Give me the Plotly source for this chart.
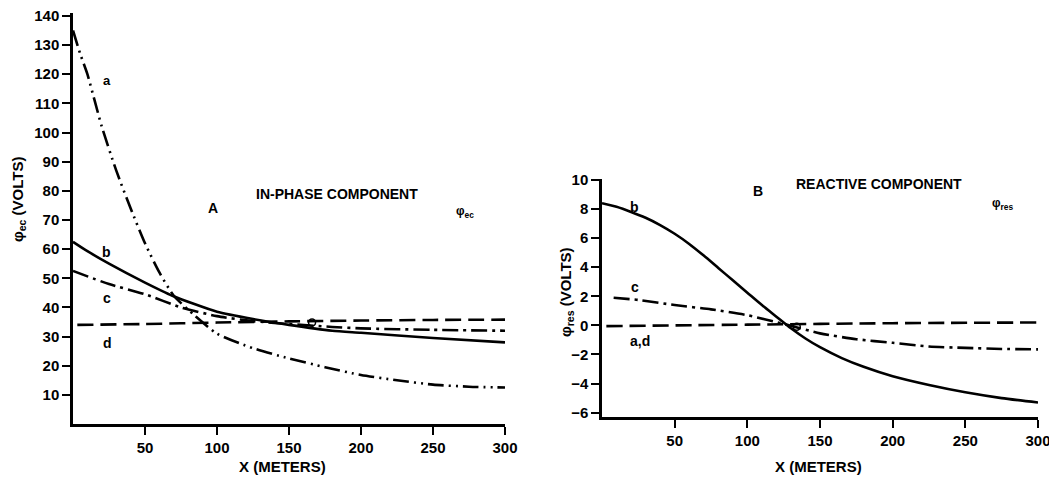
import plotly.graph_objects as go

# ---------------- data: panel A (in-phase component) ----------------
x_a_A = [0, 5, 10, 15, 20, 30, 40, 50, 60, 70, 85, 100, 125, 150, 175, 200, 225, 250, 275, 300]
y_a_A = [135, 127, 120, 111, 102, 87, 74, 62, 52, 44, 37, 31, 26, 22.5, 19.5, 16.8, 15, 13.5, 12.8, 12.5]

x_b_A = [0, 10, 25, 50, 69, 100, 125, 150, 180, 200, 250, 300]
y_b_A = [62.5, 59.3, 55, 48.5, 44, 38.5, 36, 34, 32, 31.3, 29.5, 28]

x_c_A = [0, 25, 50, 75, 100, 125, 150, 180, 200, 250, 300]
y_c_A = [52.5, 48, 44.5, 40, 37, 35.3, 34.3, 33.3, 32.8, 32.3, 32]

x_d_A = [3, 50, 100, 150, 200, 250, 300]
y_d_A = [34, 34.3, 34.8, 35.2, 35.5, 35.7, 35.8]

x_cross_A = [166]
y_cross_A = [34.8]

# ---------------- data: panel B (reactive component) ----------------
x_b_B = [0, 10, 20, 30, 40, 50, 60, 70, 80, 90, 100, 110, 120, 130, 140, 150, 165, 180, 200, 225, 250, 275, 300]
y_b_B = [8.4, 8.15, 7.8, 7.4, 6.9, 6.3, 5.6, 4.8, 3.95, 3.1, 2.25, 1.4, 0.6, -0.2, -0.9, -1.5, -2.25,
         -2.85, -3.5, -4.1, -4.6, -5.0, -5.3]

x_c_B = [8, 25, 50, 75, 100, 125, 150, 175, 200, 225, 250, 275, 300]
y_c_B = [1.9, 1.75, 1.4, 1.1, 0.7, 0.1, -0.55, -0.95, -1.2, -1.45, -1.55, -1.62, -1.65]

x_ad_B = [3, 100, 200, 300]
y_ad_B = [-0.05, 0.05, 0.15, 0.2]

x_cross_B = [134]
y_cross_B = [-0.1]

# tick values
xticks = [50, 100, 150, 200, 250, 300]
yticks_A = list(range(10, 150, 10))
yticks_B = [-6, -4, -2, 0, 2, 4, 6, 8, 10]

FONT = "Liberation Sans"
LW = 2.6
dash_dd = "16px,5px,2px,5px,2px,5px"
dash_d = "16px,5px,3px,5px"
dash = "16px,7px"

# the page body has an 8px default margin; the figure fills the rest of the window
W, H = 1049, 473
OFF = 8


def px(p):
    return (p - OFF) / W


def py(p):
    return 1 - (p - OFF) / H


fig = go.Figure()


def add_line(x, y, dashstyle, xa, ya, name):
    fig.add_trace(go.Scatter(x=x, y=y, mode="lines", name=name,
                             line=dict(color="black", width=LW, dash=dashstyle, shape="spline", smoothing=0.6),
                             xaxis=xa, yaxis=ya, showlegend=False, hoverinfo="skip"))


add_line(x_a_A, y_a_A, dash_dd, "x", "y", "a")
add_line(x_b_A, y_b_A, "solid", "x", "y", "b")
add_line(x_c_A, y_c_A, dash_d, "x", "y", "c")
add_line(x_d_A, y_d_A, dash, "x", "y", "d")
fig.add_trace(go.Scatter(x=x_cross_A, y=y_cross_A, mode="markers", xaxis="x", yaxis="y",
                         marker=dict(symbol="circle-open", size=7, color="black", line=dict(width=1.5)),
                         showlegend=False, hoverinfo="skip"))

add_line(x_b_B, y_b_B, "solid", "x2", "y2", "b")
add_line(x_c_B, y_c_B, dash_d, "x2", "y2", "c")
add_line(x_ad_B, y_ad_B, dash, "x2", "y2", "a,d")
fig.add_trace(go.Scatter(x=x_cross_B, y=y_cross_B, mode="markers", xaxis="x2", yaxis="y2",
                         marker=dict(symbol="circle-open", size=7, color="black", line=dict(width=1.5)),
                         showlegend=False, hoverinfo="skip"))

tickfont = dict(family=FONT, size=15, color="black", weight="bold")
axis_common = dict(showgrid=False, zeroline=False, showline=True, linecolor="black", linewidth=2.5,
                   ticks="outside", ticklen=8, tickwidth=2, tickcolor="black", tickfont=tickfont,
                   automargin=False, ticklabeloverflow="allow")

fig.update_layout(
    template="none",
    width=W, height=H,
    margin=dict(l=0, r=0, t=0, b=0, pad=0),
    paper_bgcolor="white", plot_bgcolor="white",
    xaxis=dict(domain=[px(73), px(505)], range=[0, 300], tickvals=xticks, anchor="y",
               ticklabelstandoff=0, **axis_common),
    yaxis=dict(domain=[py(424), py(13)], range=[0, 141], tickvals=yticks_A, anchor="x", **axis_common),
    xaxis2=dict(domain=[px(602), px(1038)], range=[0, 300], tickvals=xticks, anchor="y2",
                ticklabelstandoff=0, **axis_common),
    yaxis2=dict(domain=[py(417), py(178.5)], range=[-6.3, 10.1], tickvals=yticks_B, anchor="x2",
                **axis_common),
)


def ann(text, x, y, xref, yref, size=14, angle=0, xanchor="center"):
    fig.add_annotation(text=text, x=x, y=y, xref=xref, yref=yref, showarrow=False,
                       textangle=angle, xanchor=xanchor, yanchor="middle",
                       font=dict(family=FONT, size=size, color="black", weight="bold"))


# axis titles
ann("X (METERS)", px(282), py(466), "paper", "paper", size=15)
ann("X (METERS)", px(818), py(466), "paper", "paper", size=15)
ann("φ<sub>ec</sub> (VOLTS)", px(19), py(200), "paper", "paper", size=15, angle=-90)
ann("φ<sub>res</sub> (VOLTS)", px(566), py(292), "paper", "paper", size=15, angle=-90)

# panel A labels
ann("a", 23.6, 117.8, "x", "y", size=13)
ann("b", 23.6, 58.9, "x", "y", size=14)
ann("c", 23.6, 43.2, "x", "y", size=14)
ann("d", 24.3, 27.7, "x", "y", size=14)
ann("A", 97, 74, "x", "y", size=14)
ann("IN-PHASE COMPONENT", 183, 79, "x", "y", size=14)
ann("φ<sub>ec</sub>", 272, 72.6, "x", "y", size=12)

# panel B labels
ann("b", 22.7, 8.14, "x2", "y2", size=14)
ann("c", 22.7, 2.62, "x2", "y2", size=14)
ann("a,d", 26, -1.1, "x2", "y2", size=14)
ann("φ<sub>res</sub> (V)", 33, 10.3, "x2", "y2", size=13)
ann("B", 107, 9.24, "x2", "y2", size=14)
ann("REACTIVE COMPONENT", 190.6, 9.72, "x2", "y2", size=14)
ann("φ<sub>res</sub>", 276, 8.34, "x2", "y2", size=12)

fig.write_html("out.html")
